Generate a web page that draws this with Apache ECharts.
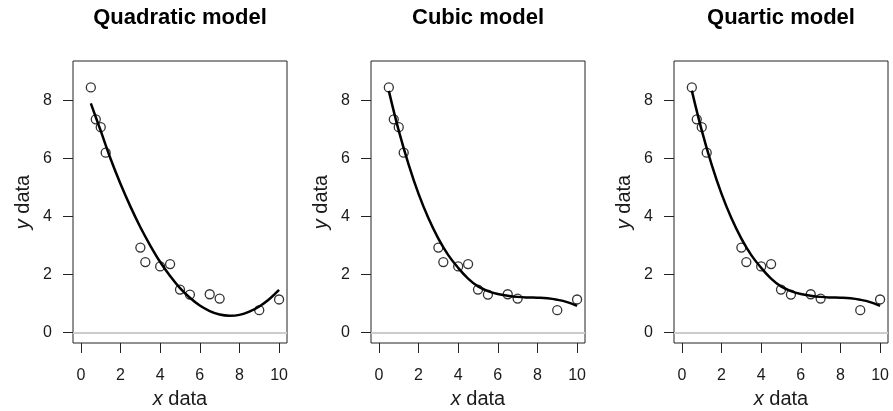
<!DOCTYPE html>
<html>
<head>
<meta charset="utf-8">
<script src="https://cdn.jsdelivr.net/npm/echarts@6/dist/echarts.min.js"></script>
<style>
html,body{margin:0;padding:0;background:#fff;}
#chart{width:893px;height:411px;}
</style>
</head>
<body>
<div id="chart"></div>
<script>
// Observed data (same in every panel)
const xData = [0.5, 0.75, 1, 1.25, 3, 3.25, 4, 4.5, 5, 5.5, 6.5, 7, 9, 10];
const yData = [8.45, 7.35, 7.08, 6.2, 2.93, 2.43, 2.28, 2.36, 1.48, 1.31, 1.32, 1.17, 0.77, 1.14];

// Fitted curves
const curveX = [0.5, 1, 1.5, 2, 2.5, 3, 3.5, 4, 4.5, 5, 5.5, 6, 6.5, 7, 7.5, 8, 8.5, 9, 9.5, 10];
const quadY  = [7.90, 6.95, 5.98, 5.12, 4.34, 3.63, 3.00, 2.43, 1.95, 1.53, 1.20, 0.93, 0.74, 0.62, 0.58, 0.61, 0.72, 0.90, 1.15, 1.47];
const cubicY = [8.33, 6.96, 5.79, 4.78, 3.94, 3.24, 2.67, 2.23, 1.86, 1.59, 1.43, 1.33, 1.27, 1.23, 1.21, 1.20, 1.18, 1.13, 1.05, 0.92];
const quartY = [8.34, 6.97, 5.79, 4.78, 3.94, 3.24, 2.67, 2.23, 1.86, 1.59, 1.43, 1.33, 1.27, 1.23, 1.21, 1.20, 1.18, 1.13, 1.05, 0.92];

const titles = ['Quadratic model', 'Cubic model', 'Quartic model'];
const xTicks = [0, 2, 4, 6, 8, 10];
const yTicks = [0, 2, 4, 6, 8];

const FONT = '"Liberation Sans", Arial, Helvetica, sans-serif';
const curves = [quadY, cubicY, quartY];
const gridLefts = [73, 371, 674];
const gridW = 214;

const pts = xData.map((x, i) => [x, yData[i]]);

const option = {
  animation: false,
  backgroundColor: '#fff',
  title: titles.map((t, i) => ({
    text: t,
    left: gridLefts[i] + gridW / 2,
    top: 7,
    padding: 0,
    textAlign: 'center',
    textStyle: { fontFamily: FONT, fontSize: 22, fontWeight: 'bold', color: '#000' }
  })),
  grid: gridLefts.map(l => ({
    left: l, top: 61, width: gridW, height: 282,
    containLabel: false, outerBoundsMode: 'none',
    show: true, borderColor: '#222', borderWidth: 1, backgroundColor: 'transparent'
  })),
  xAxis: gridLefts.map((l, i) => ({
    type: 'value', gridIndex: i, min: -0.4, max: 10.4,
    axisLine: { show: false, onZero: false },
    axisTick: { show: true, customValues: xTicks, length: 10, inside: false, lineStyle: { color: '#222', width: 1 } },
    axisLabel: { customValues: xTicks, margin: 25, fontSize: 16, fontFamily: FONT, color: '#1a1a1a' },
    splitLine: { show: false },
    name: '{it|x} data',
    nameLocation: 'middle',
    nameGap: 46,
    nameTextStyle: {
      fontFamily: FONT, fontSize: 20, color: '#1a1a1a',
      rich: { it: { fontStyle: 'italic', fontFamily: FONT, fontSize: 20, color: '#1a1a1a' } }
    }
  })),
  yAxis: gridLefts.map((l, i) => ({
    type: 'value', gridIndex: i, min: -0.36, max: 9.36,
    axisLine: { show: false, onZero: false },
    axisTick: { show: true, customValues: yTicks, length: 10, inside: false, lineStyle: { color: '#222', width: 1 } },
    axisLabel: { customValues: yTicks, margin: 21, fontSize: 16, fontFamily: FONT, color: '#1a1a1a' },
    splitLine: { show: false },
    name: '{it|y} data',
    nameLocation: 'middle',
    nameGap: 40,
    nameTextStyle: {
      fontFamily: FONT, fontSize: 20, color: '#1a1a1a',
      rich: { it: { fontStyle: 'italic', fontFamily: FONT, fontSize: 20, color: '#1a1a1a' } }
    }
  })),
  series: []
};

for (let i = 0; i < 3; i++) {
  option.series.push({
    type: 'scatter', xAxisIndex: i, yAxisIndex: i,
    data: pts,
    symbol: 'circle', symbolSize: 9,
    itemStyle: { color: 'rgba(0,0,0,0)', borderColor: '#000', borderWidth: 1.3 },
    markLine: {
      silent: true, symbol: 'none', label: { show: false },
      lineStyle: { color: '#cccccc', width: 2, type: 'solid' },
      data: [{ yAxis: 0 }]
    },
    z: 2
  });
  option.series.push({
    type: 'line', xAxisIndex: i, yAxisIndex: i,
    data: curveX.map((x, k) => [x, curves[i][k]]),
    smooth: 0.4, showSymbol: false, symbol: 'none',
    lineStyle: { color: '#000', width: 2.5 },
    z: 3
  });
}

const chart = echarts.init(document.getElementById('chart'), null, { renderer: 'canvas' });
chart.setOption(option);
</script>
</body>
</html>
